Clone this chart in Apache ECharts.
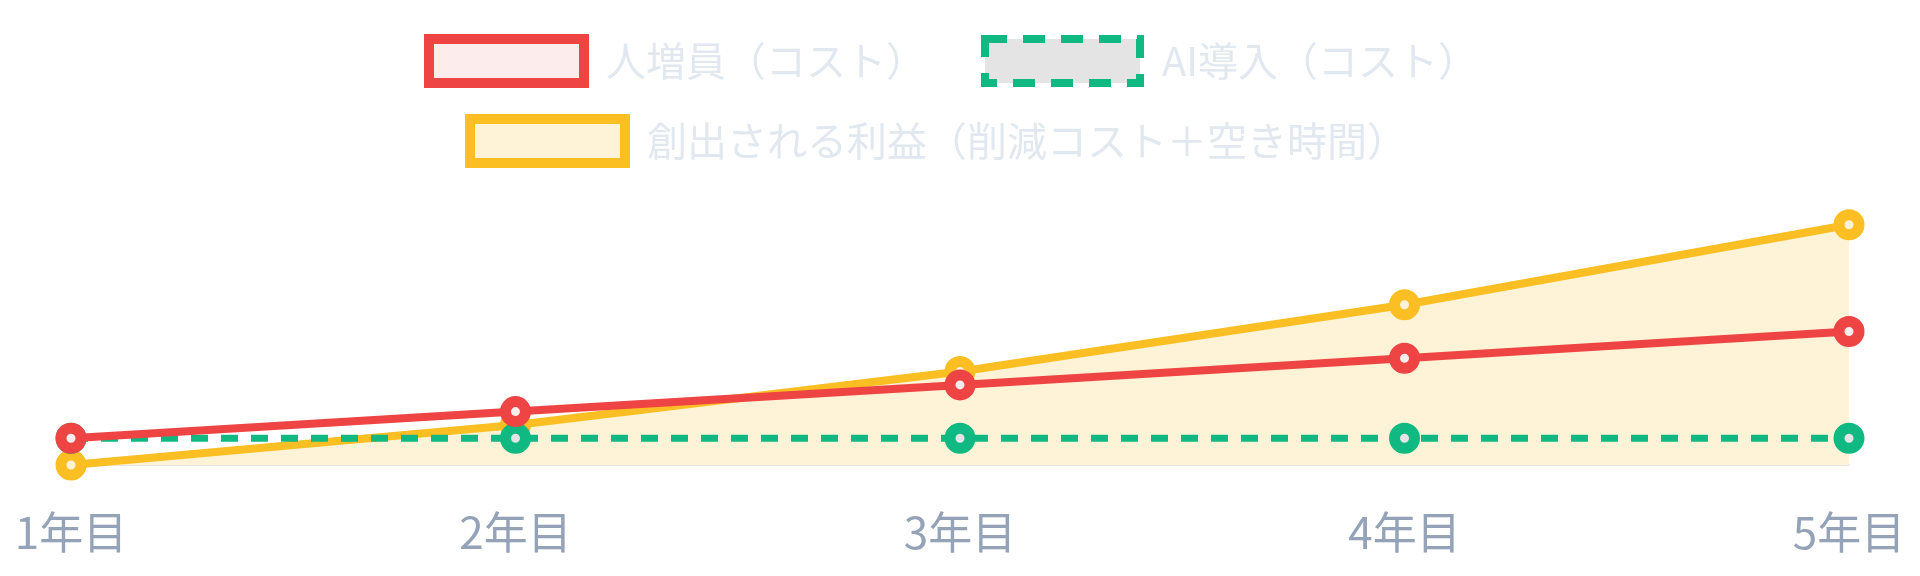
<!DOCTYPE html>
<html>
<head>
<meta charset="utf-8">
<script src="https://cdn.jsdelivr.net/npm/echarts@6/dist/echarts.min.js"></script>
<style>
  html, body { margin: 0; padding: 0; background: #fff; }
  #chart { width: 1920px; height: 576px; }
</style>
</head>
<body>
<div id="chart"></div>
<script>
var years = ['1年目', '2年目', '3年目', '4年目', '5年目'];
var staffCost = [1, 2, 3, 4, 5];
var aiCost = [1, 1, 1, 1, 1];
var profit = [0, 1.5, 3.5, 6, 9];

var FONT = '"Noto Sans CJK JP", "Noto Sans", sans-serif';

var myChart = echarts.init(document.getElementById('chart'));

var legendBase = {
    orient: 'horizontal',
    icon: 'rect',
    itemWidth: 155,
    itemHeight: 44,
    itemGap: 55,
    selectedMode: false,
    textStyle: {
        color: '#e2e8f0',
        fontSize: 40,
        fontFamily: FONT,
        padding: [0, 0, 0, 17]
    }
};

var option = {
    animation: false,
    legend: [
        Object.assign({}, legendBase, {
            left: 419,
            top: 29,
            data: [
                { name: '人増員（コスト）', itemStyle: { color: '#fdecec', borderColor: '#ef4444', borderWidth: 10 } },
                { name: 'AI導入（コスト）', itemStyle: { color: '#e4e4e4', borderColor: '#10b981', borderWidth: 8, borderType: [22, 16] } }
            ]
        }),
        Object.assign({}, legendBase, {
            left: 460,
            top: 109,
            data: [
                { name: '創出される利益（削減コスト＋空き時間）', itemStyle: { color: '#fef3d6', borderColor: '#fbbf24', borderWidth: 10 } }
            ]
        })
    ],
    grid: {
        left: 71,
        right: 71,
        top: 198,
        bottom: 111
    },
    xAxis: {
        type: 'category',
        data: years,
        boundaryGap: false,
        axisLine: { lineStyle: { color: '#e5e7eb', width: 2 } },
        axisTick: { show: false },
        splitLine: { show: false },
        axisLabel: {
            color: '#94a3b8',
            fontSize: 44,
            fontFamily: FONT,
            margin: 45
        }
    },
    yAxis: {
        type: 'value',
        min: 0,
        max: 10,
        show: false,
        splitLine: { show: false }
    },
    series: [
        {
            name: '創出される利益（削減コスト＋空き時間）',
            type: 'line',
            data: profit,
            z: 1,
            symbol: 'circle',
            symbolSize: 20,
            lineStyle: { color: '#fbbf24', width: 8 },
            itemStyle: { color: '#fef3d6', borderColor: '#fbbf24', borderWidth: 11 },
            areaStyle: { color: '#fef3d6', opacity: 1 }
        },
        {
            name: 'AI導入（コスト）',
            type: 'line',
            data: aiCost,
            z: 2,
            symbol: 'circle',
            symbolSize: 20,
            lineStyle: { color: '#10b981', width: 7, type: [17, 13] },
            itemStyle: { color: '#e4e4e4', borderColor: '#10b981', borderWidth: 11 }
        },
        {
            name: '人増員（コスト）',
            type: 'line',
            data: staffCost,
            z: 3,
            symbol: 'circle',
            symbolSize: 20,
            lineStyle: { color: '#ef4444', width: 8 },
            itemStyle: { color: '#fdecec', borderColor: '#ef4444', borderWidth: 11 }
        }
    ]
};

myChart.setOption(option);
</script>
</body>
</html>
